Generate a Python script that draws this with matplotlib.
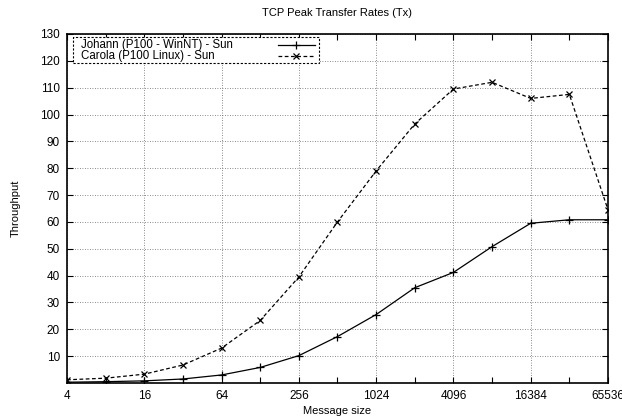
import matplotlib
matplotlib.use("Agg")
import matplotlib.pyplot as plt
from matplotlib.lines import Line2D
from matplotlib.patches import Rectangle
from matplotlib.ticker import FixedLocator, NullFormatter

plt.rcParams["font.family"] = ["Liberation Sans", "DejaVu Sans"]
plt.rcParams["font.size"] = 8

# message sizes (bytes) and throughput
sizes = [4, 8, 16, 32, 64, 128, 256, 512, 1024, 2048, 4096, 8192, 16384, 32768, 65536]
johann = [0.3, 0.5, 0.8, 1.5, 3.0, 5.8, 10.2, 17.3, 25.5, 35.5, 41.2, 50.8, 59.5, 60.8, 60.8]
carola = [1.2, 1.8, 3.3, 6.7, 13.0, 23.3, 39.5, 60.0, 79.0, 96.5, 109.5, 112.0, 106.0, 107.5, 64.5]
labels = ["Johann (P100 - WinNT) - Sun", "Carola (P100 Linux) - Sun"]

major_x = [4, 16, 64, 256, 1024, 4096, 16384, 65536]
y_ticks = list(range(10, 131, 10))

fig = plt.figure(figsize=(6.22, 4.18), dpi=100)
ax = fig.add_axes([0.1077, 0.0837, 0.8698, 0.835])

dash = (0, (3, 2))
styles = [dict(ls="-", marker="+", ms=6), dict(ls=dash, marker="x", ms=5)]

for vals, st in zip([johann, carola], styles):
    ax.plot(sizes, vals, color="black", lw=0.9, mew=0.9, **st)

ax.set_xscale("log", base=2)
ax.set_xlim(4, 65536)
ax.set_ylim(0, 130)
ax.xaxis.set_major_locator(FixedLocator(major_x))
ax.set_xticklabels([str(v) for v in major_x])
ax.xaxis.set_minor_locator(FixedLocator(sizes))
ax.xaxis.set_minor_formatter(NullFormatter())
ax.set_yticks(y_ticks)
ax.yaxis.set_minor_locator(FixedLocator([]))

ax.tick_params(which="both", direction="in", top=True, right=True, length=4, width=0.8,
               labelsize=8.5, pad=5)
ax.grid(True, which="major", color="#666666", ls=(0, (1, 2)), lw=0.6)
for s in ax.spines.values():
    s.set_linewidth(1.2)

ax.set_title("TCP Peak Transfer Rates (Tx)", fontsize=8, pad=13)
ax.set_xlabel("Message size", fontsize=8, labelpad=3)
ax.set_ylabel("Throughput", fontsize=8, labelpad=14)

# gnuplot-style key: text left, sample right, dotted box
box = Rectangle((0.011, 0.917), 0.455, 0.073, transform=ax.transAxes, fill=True,
                facecolor="white", edgecolor="black", lw=0.8, ls=(0, (2, 1.5)), zorder=5)
ax.add_patch(box)
for i, (lab, st) in enumerate(zip(labels, styles)):
    yk = 0.9685 - i * 0.0315
    ax.text(0.026, yk, lab, transform=ax.transAxes, ha="left", va="center",
            fontsize=8.3, zorder=6)
    ax.add_line(Line2D([0.39, 0.424, 0.458], [yk] * 3, transform=ax.transAxes,
                       color="black", lw=0.9, mew=0.9, markevery=[1], zorder=6, **st))

fig.savefig("out.png", dpi=100)
